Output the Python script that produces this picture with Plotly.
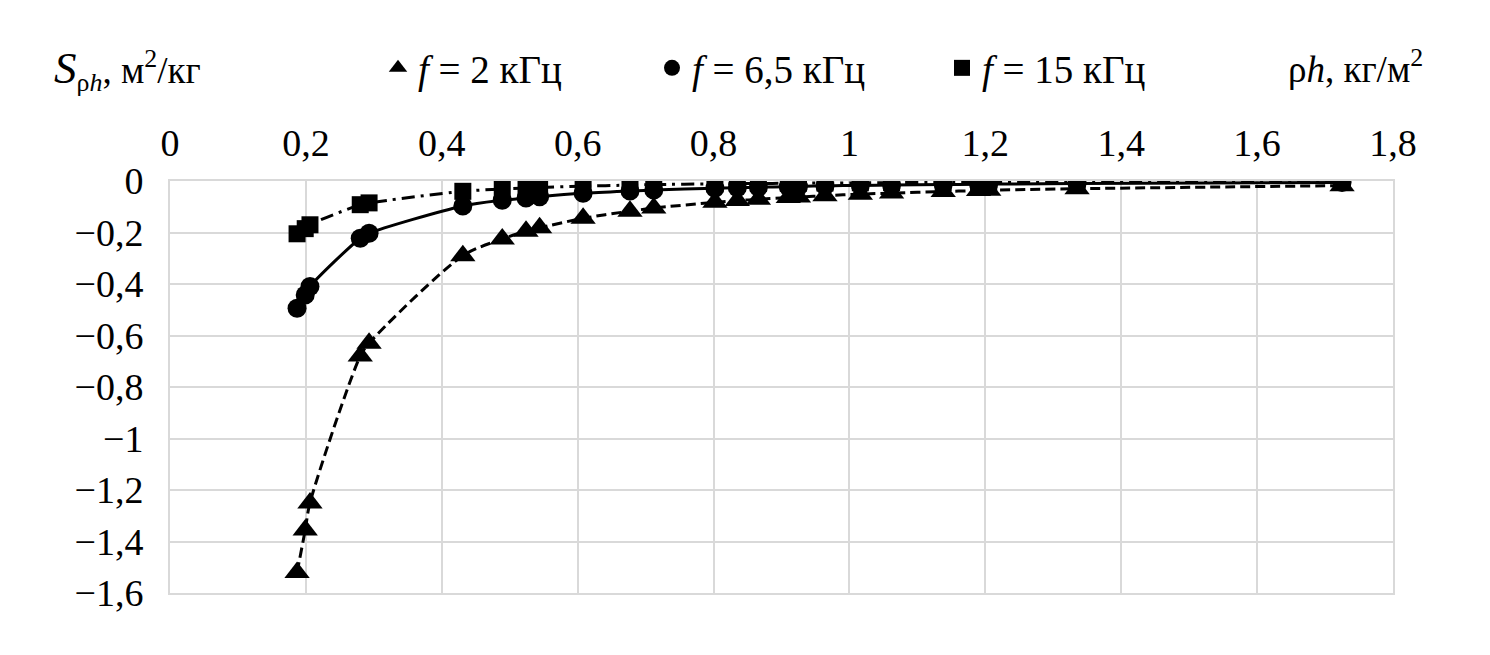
import plotly.graph_objects as go

# ---- data ----
rho_h = [0.187, 0.199, 0.206, 0.28, 0.293, 0.431, 0.489, 0.524, 0.544, 0.608,
         0.677, 0.712, 0.802, 0.835, 0.866, 0.91, 0.925, 0.964, 1.016, 1.062,
         1.138, 1.19, 1.205, 1.335, 1.725]

s_2khz = [-1.52, -1.355, -1.25, -0.68, -0.63, -0.29, -0.225, -0.195, -0.182, -0.145,
          -0.117, -0.105, -0.083, -0.076, -0.071, -0.064, -0.062, -0.057, -0.051, -0.047,
          -0.041, -0.037, -0.036, -0.030, -0.018]

s_6_5khz = [-0.494, -0.443, -0.41, -0.222, -0.203, -0.097, -0.075, -0.066, -0.061, -0.048,
            -0.039, -0.035, -0.028, -0.026, -0.024, -0.022, -0.021, -0.019, -0.017, -0.016,
            -0.014, -0.013, -0.012, -0.010, -0.006]

s_15khz = [-0.205, -0.185, -0.17, -0.092, -0.085, -0.040, -0.031, -0.027, -0.025, -0.020,
           -0.016, -0.014, -0.011, -0.010, -0.0095, -0.009, -0.0085, -0.008, -0.007, -0.0065,
           -0.0057, -0.0052, -0.005, -0.004, -0.0025]

series_names = ["<i>f</i> = 2 кГц", "<i>f</i> = 6,5 кГц", "<i>f</i> = 15 кГц"]
x_ticks = [0, 0.2, 0.4, 0.6, 0.8, 1.0, 1.2, 1.4, 1.6, 1.8]
y_ticks = [0, -0.2, -0.4, -0.6, -0.8, -1.0, -1.2, -1.4, -1.6]

# ---- figure ----
FONT = "Liberation Serif"
OFF = 8  # page margin of the browser
W, H = 1480, 645
ML, MT = 170 - OFF, 181 - OFF
MR = W + OFF - 1393
MB = H + OFF - 593
PW, PH = W - ML - MR, H - MT - MB

def px_x(p):
    return (p - OFF - ML) / PW

def px_y(p):
    return (H + OFF - MB - p) / PH

fig = go.Figure()

styles = [
    dict(y=s_2khz, symbol="triangle-up", size=22, dash="10px,5px", name=series_names[0], legend="legend"),
    dict(y=s_6_5khz, symbol="circle", size=19, dash="solid", name=series_names[1], legend="legend2"),
    dict(y=s_15khz, symbol="square", size=17, dash="13px,6px,3px,6px", name=series_names[2], legend="legend3"),
]

for st in styles:
    fig.add_trace(go.Scatter(
        x=rho_h, y=st["y"], mode="lines+markers",
        line=dict(color="black", width=3, dash=st["dash"], shape="spline", smoothing=0.8),
        marker=dict(symbol=st["symbol"], size=st["size"], color="black"),
        showlegend=False, hoverinfo="x+y",
    ))

for st in styles:
    fig.add_trace(go.Scatter(
        x=[None], y=[None], mode="markers",
        marker=dict(symbol=st["symbol"], size=16, color="black"),
        name=st["name"], legend=st["legend"], showlegend=True,
    ))

leg_common = dict(font=dict(family=FONT, size=39, color="black"), bgcolor="rgba(0,0,0,0)",
                  borderwidth=0, yanchor="middle", xanchor="left", orientation="h")

fig.update_layout(
    width=W, height=H,
    margin=dict(l=ML, r=MR, t=MT, b=MB),
    paper_bgcolor="white", plot_bgcolor="white",
    separators=", ",
    font=dict(family=FONT, size=37, color="black"),
    legend=dict(x=px_x(378), y=px_y(68), **leg_common),
    legend2=dict(x=px_x(652), y=px_y(68), **leg_common),
    legend3=dict(x=px_x(942), y=px_y(68), **leg_common),
    xaxis=dict(range=[0, 1.8], side="top", tickvals=x_ticks,
               showgrid=True, gridcolor="#d9d9d9", gridwidth=2,
               showline=True, linecolor="#d9d9d9", linewidth=2, mirror=True,
               zeroline=False, ticks="", ticklabelstandoff=8,
               tickfont=dict(family=FONT, size=38, color="black")),
    yaxis=dict(range=[-1.6, 0], tickvals=y_ticks,
               showgrid=True, gridcolor="#d9d9d9", gridwidth=2,
               showline=True, linecolor="#d9d9d9", linewidth=2, mirror=True,
               zeroline=False, ticks="", ticklabelstandoff=17,
               tickfont=dict(family=FONT, size=38, color="black")),
    annotations=[
        dict(text="<span style='font-size:45px'><i>S</i></span><sub>ρ<i>h</i></sub>, м<sup>2</sup>/кг",
             xref="paper", yref="paper",
             x=px_x(52), y=px_y(70), xanchor="left", yanchor="middle", showarrow=False,
             font=dict(family=FONT, size=37, color="black")),
        dict(text="ρ<i>h</i>, кг/м<sup>2</sup>", xref="paper", yref="paper",
             x=px_x(1425), y=px_y(66), xanchor="right", yanchor="middle", showarrow=False,
             font=dict(family=FONT, size=37, color="black")),
    ],
)

fig.write_html("out.html")
